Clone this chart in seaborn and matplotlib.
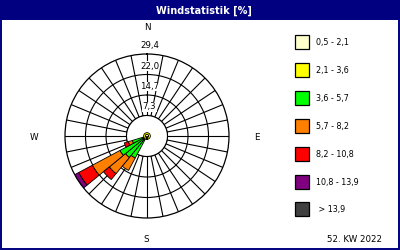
import numpy as np
import matplotlib
matplotlib.use("Agg")
import matplotlib.pyplot as plt
from matplotlib.patches import Rectangle
import matplotlib.transforms as mtransforms
import seaborn as sns

# ---------------- data ----------------
title = "Windstatistik [%]"
footer = "52. KW 2022"
compass_labels = ["N", "E", "S", "W"]
directions_deg = [213.75, 225.0, 236.25, 247.5]
class_labels = ["0,5 - 2,1", "2,1 - 3,6", "3,6 - 5,7", "5,7 - 8,2",
                "8,2 - 10,8", "10,8 - 13,9", " > 13,9"]
class_colors = ["#FFFFCC", "#FFFF00", "#00FF00", "#FF8000",
                "#FF0000", "#800080", "#404040"]
# segment lengths (%) per direction for each speed class
v_0_5_2_1 = [0.5, 0.5, 0.5, 0.5]
v_2_1_3_6 = [0.6, 0.6, 0.6, 0.6]
v_3_6_5_7 = [7.9, 8.9, 9.9, 4.4]
v_5_7_8_2 = [5.0, 7.5, 11.2, 1.5]
v_8_2_10_8 = [0.0, 2.7, 5.6, 1.5]
v_10_8_13_9 = [0.0, 0.0, 1.6, 0.0]
v_gt_13_9 = [0.0, 0.0, 0.0, 0.0]
calm_values = [0.6, 0.6]
ring_values = [7.35, 14.7, 22.05, 29.4]
ring_labels = ["7,3", "14,7", "22,0", "29,4"]

series = [v_0_5_2_1, v_2_1_3_6, v_3_6_5_7, v_5_7_8_2,
          v_8_2_10_8, v_10_8_13_9, v_gt_13_9]

# ---------------- style ----------------
sns.set_theme(style="white")
plt.rcParams["font.family"] = ["DejaVu Sans"]

W, H = 400, 250
fig = plt.figure(figsize=(4, 2.5), dpi=100)
fig.patch.set_facecolor("white")

navy = "#000080"
bg = fig.add_axes([0, 0, 1, 1])
bg.set_xlim(0, W)
bg.set_ylim(H, 0)
bg.axis("off")
bg.add_patch(Rectangle((0, 0), W, 20, facecolor=navy, edgecolor="none"))
bg.add_patch(Rectangle((0.5, 0.5), W - 1.5, H - 1.5, facecolor="none",
                       edgecolor=navy, lw=1.4))
bg.text(204, 10.5, title, color="white", fontsize=7, fontweight="bold",
        ha="center", va="center")

# compass letters
for lbl, (x, y) in zip(compass_labels, [(147, 27), (257, 137), (146, 239), (34, 138)]):
    bg.text(x, y, lbl, fontsize=6.3, ha="center", va="center", color="black")

# legend
for i, (lbl, col) in enumerate(zip(class_labels, class_colors)):
    yc = 42 + i * 27.9
    bg.add_patch(Rectangle((295, yc - 7), 14, 14, facecolor=col,
                           edgecolor="black", lw=0.9))
    bg.text(316.5, yc + 0.5, lbl, fontsize=5.8, ha="left", va="center", color="black")
bg.text(382, 239.5, footer, fontsize=6.2, ha="right", va="center", color="black")

# ---------------- polar wind rose ----------------
cx, cy, R = 147, 136, 82
ax = fig.add_axes([(cx - R) / W, (H - cy - R) / H, 2 * R / W, 2 * R / H],
                  projection="polar")
ax.set_theta_zero_location("N")
ax.set_theta_direction(-1)
rmax = ring_values[-1]
ax.set_ylim(0, rmax)
ax.set_rgrids(ring_values[:-1], labels=[])
ax.set_thetagrids(np.arange(0, 360, 11.25), labels=[])
ax.grid(True, color="black", lw=0.8)
ax.set_axisbelow(True)
ax.spines["polar"].set_color("black")
ax.spines["polar"].set_linewidth(0.9)
ax.set_facecolor("white")

# hole in the middle (no spokes inside the first ring)
ax.bar(0, ring_values[0], width=2 * np.pi, bottom=0, color="white",
       edgecolor="none", zorder=0.6)
tt = np.linspace(0, 2 * np.pi, 300)
ax.plot(tt, np.full_like(tt, ring_values[0]), color="black", lw=0.8, zorder=0.7)

theta = np.deg2rad(directions_deg)
width = np.deg2rad(11.25)
bottom = np.zeros(len(directions_deg))
for vals, col in zip(series, class_colors):
    vals = np.asarray(vals, dtype=float)
    mask = vals > 0
    if mask.any():
        ax.bar(theta[mask], vals[mask], width=width, bottom=bottom[mask],
               color=col, edgecolor="black", lw=0.6, zorder=2)
    bottom += vals

# calm circle in the center
cb = 0.0
for val, col in zip(calm_values, class_colors[:2]):
    ax.bar(0, val, width=2 * np.pi, bottom=cb, color=col, edgecolor="black",
           lw=0.6, zorder=3)
    cb += val

# ring labels along the north axis
off = mtransforms.offset_copy(ax.transData, fig=fig, x=2.5, y=8.5, units="dots")
for rv, rl in zip(ring_values, ring_labels):
    ax.text(0, rv, rl, transform=off, fontsize=6.2, ha="center", va="center",
            color="black", zorder=4,
            bbox=dict(facecolor="white", edgecolor="none", pad=0.3))

fig.savefig("out.png", dpi=100, facecolor="white")
